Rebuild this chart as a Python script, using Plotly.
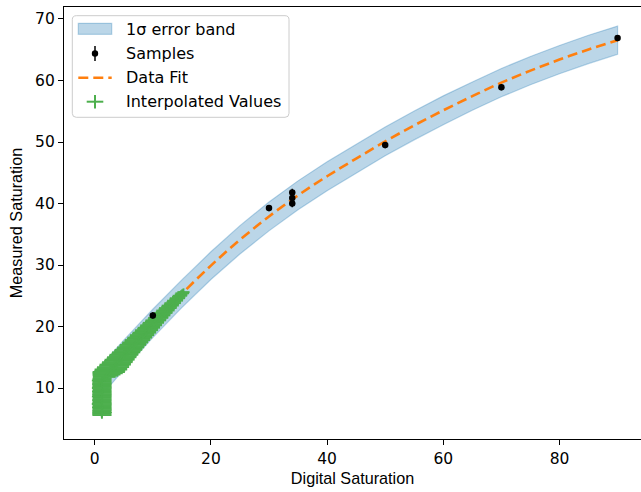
import plotly.graph_objects as go

# ---- fitted curve (Digital Saturation -> Measured Saturation) ----
fit_x = [0, 2, 5, 10, 15, 20, 25, 30, 35, 40, 45, 50, 55, 60, 65, 70, 75, 80, 85, 90]
fit_y = [10.0, 12.18, 15.38, 20.5, 25.33, 29.9, 34.1, 37.9, 41.33, 44.43, 47.3, 50.1,
         52.7, 55.15, 57.45, 59.65, 61.6, 63.4, 65.05, 66.55]
fit_sigma = [2.5, 2.45, 2.4, 2.3, 2.25, 2.25, 2.3, 2.35, 2.35, 2.35, 2.35, 2.35,
             2.35, 2.35, 2.3, 2.3, 2.3, 2.3, 2.3, 2.3]

# ---- measured samples ----
sample_x = [10, 30, 34, 34, 34, 50, 70, 90]
sample_y = [21.8, 39.25, 41.8, 40.9, 40.0, 49.5, 58.9, 66.9]
sample_err = [0.5, 0.5, 0.6, 0.6, 0.6, 0.5, 0.5, 0.5]

# ---- interpolated values with x / y uncertainties ----
interp_x = [1.25, 1.21, 1.27, 1.23, 1.25, 1.29, 1.22, 1.25, 1.28, 1.20, 1.25, 1.27,
            1.23, 1.25, 1.29, 1.21, 1.25, 1.24, 1.27, 1.22, 1.25, 1.28, 1.21, 1.25,
            1.26, 1.23, 1.25, 1.27, 1.20, 1.25, 1.28,
            1.65, 1.86, 2.04, 2.23, 2.42, 2.60, 2.79, 2.97, 3.16, 3.35, 3.53, 3.72,
            3.90, 4.09, 4.28, 4.46, 4.65, 4.83, 5.02, 5.21, 5.41, 5.61, 5.80, 6.00,
            6.19, 6.39, 6.58, 6.78, 6.97, 7.17, 7.36, 7.56, 7.75, 7.95, 8.15, 8.34,
            8.54, 8.73, 8.93, 9.12, 9.32, 9.51, 9.71, 9.90, 10.10, 10.31, 10.52, 10.72,
            10.93, 11.14, 11.35, 11.55, 11.76, 11.97, 12.17, 12.38, 12.59, 12.80, 13.00,
            13.21, 13.42, 13.62, 13.83, 14.04, 14.24, 14.45, 14.66, 14.87, 15.07, 15.28]
interp_y = [5.6, 5.8, 6.0, 6.2, 6.4, 6.6, 6.8, 7.0, 7.2, 7.4, 7.6, 7.8,
            8.0, 8.2, 8.4, 8.6, 8.8, 9.0, 9.2, 9.4, 9.6, 9.8, 10.0, 10.2,
            10.4, 10.6, 10.8, 11.0, 11.2, 11.4, 11.6,
            11.8, 12.0, 12.2, 12.4, 12.6, 12.8, 13.0, 13.2, 13.4, 13.6, 13.8, 14.0,
            14.2, 14.4, 14.6, 14.8, 15.0, 15.2, 15.4, 15.6, 15.8, 16.0, 16.2, 16.4,
            16.6, 16.8, 17.0, 17.2, 17.4, 17.6, 17.8, 18.0, 18.2, 18.4, 18.6, 18.8,
            19.0, 19.2, 19.4, 19.6, 19.8, 20.0, 20.2, 20.4, 20.6, 20.8, 21.0, 21.2,
            21.4, 21.6, 21.8, 22.0, 22.2, 22.4, 22.6, 22.8, 23.0, 23.2, 23.4,
            23.6, 23.8, 24.0, 24.2, 24.4, 24.6, 24.8, 25.0, 25.2, 25.4, 25.6]
interp_xerr = [1.65, 1.61, 1.69, 1.63, 1.66, 1.60, 1.68, 1.64, 1.62, 1.70, 1.65, 1.61,
               1.67, 1.63, 1.59, 1.69, 1.65, 1.66, 1.61, 1.68, 1.64, 1.60, 1.69, 1.65,
               1.63, 1.67, 1.65, 1.61, 1.69, 1.64, 1.62,
               1.95, 2.20, 2.40, 2.60, 2.78, 2.66, 2.80, 2.62, 2.76, 2.57, 2.70, 2.52,
               2.63, 2.46, 2.58, 2.41, 2.53, 2.36, 2.48, 2.31, 2.43, 2.26, 2.38, 2.20,
               2.33, 2.15, 2.28, 2.10, 2.23, 2.05, 2.18, 2.00, 2.13, 1.95, 2.08, 1.90,
               2.03, 1.85, 1.98, 1.80, 1.93, 1.75, 1.88, 1.70, 1.83, 1.65, 1.78, 1.60,
               1.73, 1.55, 1.67, 1.50, 1.62, 1.45, 1.57, 1.40, 1.52, 1.35, 1.47,
               1.30, 1.42, 1.25, 1.37, 1.20, 1.32, 1.15, 1.25, 1.10, 1.18, 1.05]
interp_yerr = [0.60, 0.58, 0.62, 0.60, 0.59, 0.61, 0.60, 0.62, 0.58, 0.60,
               0.61, 0.59, 0.60, 0.62, 0.60, 0.58, 0.61, 0.60, 0.59, 0.62, 0.60, 0.61,
               0.58, 0.60, 0.62, 0.59, 0.60, 0.61, 0.60, 0.58, 0.62,
               0.70, 0.72, 0.74, 0.75, 0.77, 0.73, 0.75, 0.76, 0.74, 0.75, 0.77, 0.75,
               0.73, 0.76, 0.75, 0.74, 0.77, 0.75, 0.76, 0.73, 0.75, 0.77, 0.74, 0.75,
               0.76, 0.75, 0.73, 0.77, 0.75, 0.76, 0.75, 0.74, 0.76, 0.75, 0.77, 0.73,
               0.75, 0.76, 0.74, 0.75, 0.77, 0.75, 0.73, 0.76, 0.75, 0.74, 0.77, 0.75,
               0.76, 0.73, 0.75, 0.77, 0.74, 0.75, 0.76, 0.75, 0.73, 0.77, 0.75,
               0.76, 0.75, 0.74, 0.76, 0.75, 0.77, 0.73, 0.72, 0.70, 0.66, 0.60]

x_ticks = [0, 20, 40, 60, 80]
y_ticks = [10, 20, 30, 40, 50, 60, 70]

BLUE_FILL = "rgba(31,119,180,0.3)"
ORANGE = "#ff7f0e"
GREEN = "rgb(77,175,77)"
TICK_FONT = dict(family="DejaVu Sans", size=15.5, color="black")
LABEL_FONT = dict(family="Liberation Sans", size=16.2, color="black")

fig = go.Figure()

# 1-sigma band as a closed polygon around the fit
band_upper = [y + s for y, s in zip(fit_y, fit_sigma)]
band_lower = [y - s for y, s in zip(fit_y, fit_sigma)]
fig.add_trace(go.Scatter(
    x=fit_x + fit_x[::-1], y=band_upper + band_lower[::-1],
    fill="toself", fillcolor=BLUE_FILL,
    line=dict(color=BLUE_FILL, width=1.2), mode="lines",
    hoverinfo="skip", showlegend=False))

# fitted curve
fig.add_trace(go.Scatter(
    x=fit_x, y=fit_y, mode="lines", line_shape="spline",
    line=dict(color=ORANGE, width=2.6, dash="10px,5px"), showlegend=False))

# interpolated values with crosses of uncertainty
fig.add_trace(go.Scatter(
    x=interp_x, y=interp_y, mode="markers",
    marker=dict(size=2, color=GREEN),
    error_x=dict(type="data", array=interp_xerr, color=GREEN, thickness=1.9, width=0),
    error_y=dict(type="data", array=interp_yerr, color=GREEN, thickness=1.9, width=0),
    showlegend=False))

# samples
fig.add_trace(go.Scatter(
    x=sample_x, y=sample_y, mode="markers",
    marker=dict(size=6.5, color="black"),
    error_y=dict(type="data", array=sample_err, color="black", thickness=1.5, width=0),
    showlegend=False))

# ---- hand-built legend box (pixel layout converted to paper units) ----
PL, PT, PW, PH = 64, 7, 577, 432


def px(v):
    return (v - PL) / PW


def py(v):
    return (PT + PH - v) / PH


shapes = []
x0, x1, yb, yt = px(72.3), px(289), py(117.3), py(15.7)
rx, ry = 4 / PW, 4 / PH
box_path = (f"M {x0+rx},{yb} L {x1-rx},{yb} Q {x1},{yb} {x1},{yb+ry} "
            f"L {x1},{yt-ry} Q {x1},{yt} {x1-rx},{yt} L {x0+rx},{yt} "
            f"Q {x0},{yt} {x0},{yt-ry} L {x0},{yb+ry} Q {x0},{yb} {x0+rx},{yb} Z")
shapes.append(dict(type="path", path=box_path, xref="paper", yref="paper",
                   fillcolor="rgba(255,255,255,0.8)", line=dict(color="#cccccc", width=1),
                   layer="above"))
# band patch
shapes.append(dict(type="rect", xref="paper", yref="paper",
                   x0=px(78.3), x1=px(111.7), y0=py(34.3), y1=py(23.3),
                   fillcolor=BLUE_FILL, line=dict(color=BLUE_FILL, width=1.2), layer="above"))
# samples glyph
shapes.append(dict(type="line", xref="paper", yref="paper",
                   x0=px(95), x1=px(95), y0=py(61), y1=py(46),
                   line=dict(color="black", width=1.5), layer="above"))
shapes.append(dict(type="circle", xref="paper", yref="paper",
                   x0=px(91.8), x1=px(98.2), y0=py(56.7), y1=py(50.3),
                   fillcolor="black", line=dict(color="black", width=0), layer="above"))
# fit glyph
shapes.append(dict(type="line", xref="paper", yref="paper",
                   x0=px(78.3), x1=px(111.7), y0=py(77.7), y1=py(77.7),
                   line=dict(color=ORANGE, width=2.6, dash="10px,5px"), layer="above"))
# interpolated glyph
shapes.append(dict(type="line", xref="paper", yref="paper",
                   x0=px(86.7), x1=px(103.3), y0=py(101.7), y1=py(101.7),
                   line=dict(color=GREEN, width=2), layer="above"))
shapes.append(dict(type="line", xref="paper", yref="paper",
                   x0=px(95), x1=px(95), y0=py(108.5), y1=py(95),
                   line=dict(color=GREEN, width=2), layer="above"))

legend_labels = ["1σ error band", "Samples", "Data Fit", "Interpolated Values"]
legend_rows = [29.3, 53.5, 77.5, 101.5]
annotations = [
    dict(text=t, x=px(123.5), y=py(r), xref="paper", yref="paper",
         xanchor="left", yanchor="middle", showarrow=False,
         font=dict(family="DejaVu Sans", size=16, color="black"))
    for t, r in zip(legend_labels, legend_rows)
]

fig.update_layout(
    width=641, height=492,
    margin=dict(l=PL, r=0, t=PT, b=492 - PT - PH),
    paper_bgcolor="white", plot_bgcolor="white",
    showlegend=False, shapes=shapes, annotations=annotations,
    xaxis=dict(range=[-5.284, 94.03], tickvals=x_ticks, ticks="outside",
               ticklen=5, tickwidth=1.1, tickcolor="black",
               showline=True, linecolor="black", linewidth=1.1, mirror=True,
               showgrid=False, zeroline=False, tickfont=TICK_FONT,
               title=dict(text="Digital Saturation", font=LABEL_FONT, standoff=6)),
    yaxis=dict(range=[1.71, 71.95], tickvals=y_ticks, ticks="outside",
               ticklen=5, tickwidth=1.1, tickcolor="black",
               showline=True, linecolor="black", linewidth=1.1,
               showgrid=False, zeroline=False, tickfont=TICK_FONT,
               title=dict(text="Measured Saturation", font=LABEL_FONT, standoff=8)),
)

fig.write_html("out.html")
